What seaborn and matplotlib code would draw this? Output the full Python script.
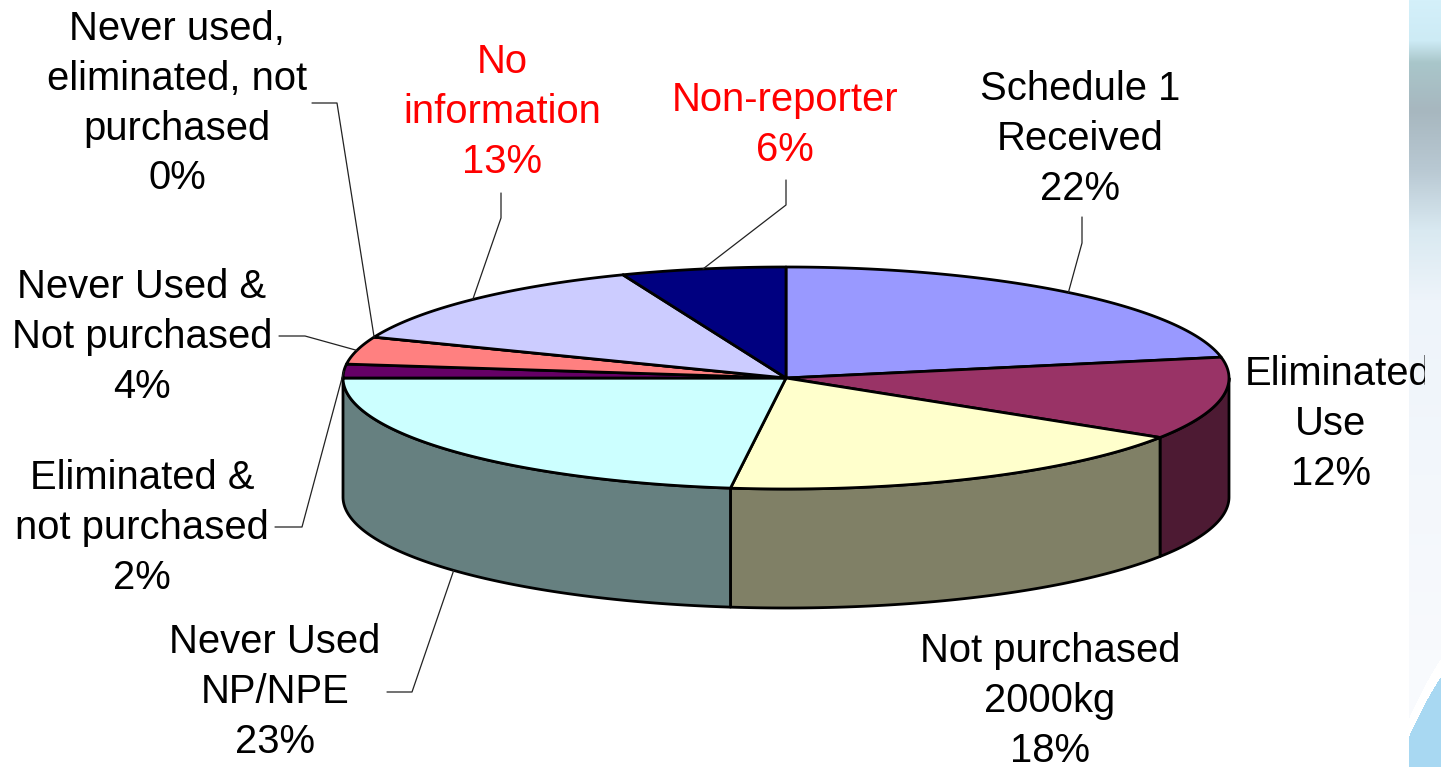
import numpy as np
import matplotlib
matplotlib.use("Agg")
import matplotlib.pyplot as plt
from matplotlib.patches import Polygon
from matplotlib.transforms import Bbox, TransformedBbox
import seaborn as sns

# ---------------- data ----------------
labels = ["Schedule 1\nReceived", "Eliminated\nUse", "Not purchased\n2000kg", "Never Used\nNP/NPE",
          "Eliminated &\nnot purchased", "Never Used &\nNot purchased",
          "Never used,\neliminated, not\npurchased", "No\ninformation", "Non-reporter"]
values = [22, 12, 18, 23, 2, 4, 0, 13, 6]
slice_colors = ["#9999FF", "#993366", "#FFFFCC", "#CCFFFF", "#660066", "#FF8080",
                "#0066CC", "#CCCCFF", "#000080"]
label_colors = ["black", "black", "black", "black", "black", "black", "black", "#FF0000", "#FF0000"]

# ---------------- layout (pixels) ----------------
label_pos = [(1080, 100), (1331, 385), (1050, 662), (275, 653), (142, 489),
             (142, 298), (177, 40), (502, 73), (785, 111)]
first_line_dx = [0, 7, 0, 0, 0, 0, 0, 0, 0]
leader_pos = [(1082, 217, 1082, 243), None, None, (387, 692, 412, 692), (275, 527, 302, 527),
              (279, 336, 305, 336), (312, 103, 337, 103), (501, 193, 501, 218), (786, 180, 786, 205)]
LINE_STEP = 49.8
CX, CY, A, B, DEPTH = 786, 378, 443, 111, 119

sns.set_theme(style="white")
plt.rcParams['font.family'] = ['Liberation Sans', 'DejaVu Sans']
palette = sns.color_palette(slice_colors)

fig = plt.figure(figsize=(14.41, 7.67), dpi=100)
ax = fig.add_axes([0, 0, 1, 1])
ax.set_xlim(0, 1441)
ax.set_ylim(767, 0)
ax.axis('off')

# ---------------- decorative strip on the right ----------------
H, W = 767, 32
stops_y = [0, 40, 62, 110, 170, 230, 300, 650, 767]
stops_c = ["#D4F0FA", "#CDEBF5", "#A9C6CA", "#A7B7BF", "#B9C9D3", "#D9E9F1", "#EEF4FA", "#F8FAFD", "#F8FAFD"]
rgb_stops = np.array([matplotlib.colors.to_rgb(c) for c in stops_c])
img = np.zeros((H, W, 3))
yy = np.arange(H)
for k in range(3):
    img[:, :, k] = np.interp(yy, stops_y, rgb_stops[:, k])[:, None]
blue = np.array(matplotlib.colors.to_rgb("#A8D8F2"))
for col in range(W):
    f = col / (W - 1)
    cy_ = 735 - 58 * f - 10 * f * (1 - f)
    for row in range(H):
        if row > cy_:
            img[row, col] = blue
        elif row > cy_ - 18:
            img[row, col] = np.array([1.0, 1.0, 1.0])
ax.imshow(img, extent=[1409, 1441, 767, 0], aspect='auto', zorder=0, interpolation='bilinear')


# ---------------- 3D pie ----------------
def arc(t1, t2):
    n = max(2, int(abs(t2 - t1) * 120) + 2)
    ts = np.linspace(t1, t2, n)
    return np.column_stack([CX + A * np.sin(ts), CY - B * np.cos(ts)])


def pt(t):
    return CX + A * np.sin(t), CY - B * np.cos(t)


total = float(sum(values))
bounds = np.concatenate([[0], np.cumsum(values)]) / total * 2 * np.pi

# side walls (front half only)
for i in range(len(values)):
    s = max(bounds[i], np.pi / 2)
    e = min(bounds[i + 1], 3 * np.pi / 2)
    if e > s:
        top = arc(s, e)
        bot = top[::-1] + np.array([0, DEPTH])
        side_col = tuple(np.array(palette[i]) * 0.5)
        ax.add_patch(Polygon(np.vstack([top, bot]), closed=True, facecolor=side_col,
                             edgecolor='black', lw=2.0, joinstyle='round', zorder=2))

# top faces
for i in range(len(values)):
    poly = np.vstack([[CX, CY], arc(bounds[i], bounds[i + 1])])
    ax.add_patch(Polygon(poly, closed=True, facecolor=palette[i], edgecolor='black',
                         lw=2.0, joinstyle='round', zorder=3))

# ---------------- labels & leader lines ----------------
clip_box = TransformedBbox(Bbox([[0, 0], [1425, 767]]), ax.transData)
for i, lab in enumerate(labels):
    lines = lab.split("\n") + [f"{values[i]}%"]
    x, y0 = label_pos[i]
    for j, line in enumerate(lines):
        dx = first_line_dx[i] if j == 0 else 0
        t = ax.text(x + dx, y0 + j * LINE_STEP, line, ha='center', va='baseline', fontsize=28.8,
                    color=label_colors[i], zorder=5)
        t.set_clip_box(clip_box)
        t.set_clip_on(True)
    if leader_pos[i] is not None:
        x0, y0l, x1, y1 = leader_pos[i]
        mid = (bounds[i] + bounds[i + 1]) / 2
        px, py = pt(mid)
        if np.pi / 2 < mid < 3 * np.pi / 2:
            py += DEPTH
        ax.plot([x0, x1, px], [y0l, y1, py], color='#222222', lw=0.9, zorder=4)

fig.savefig("out.png", dpi=100)
